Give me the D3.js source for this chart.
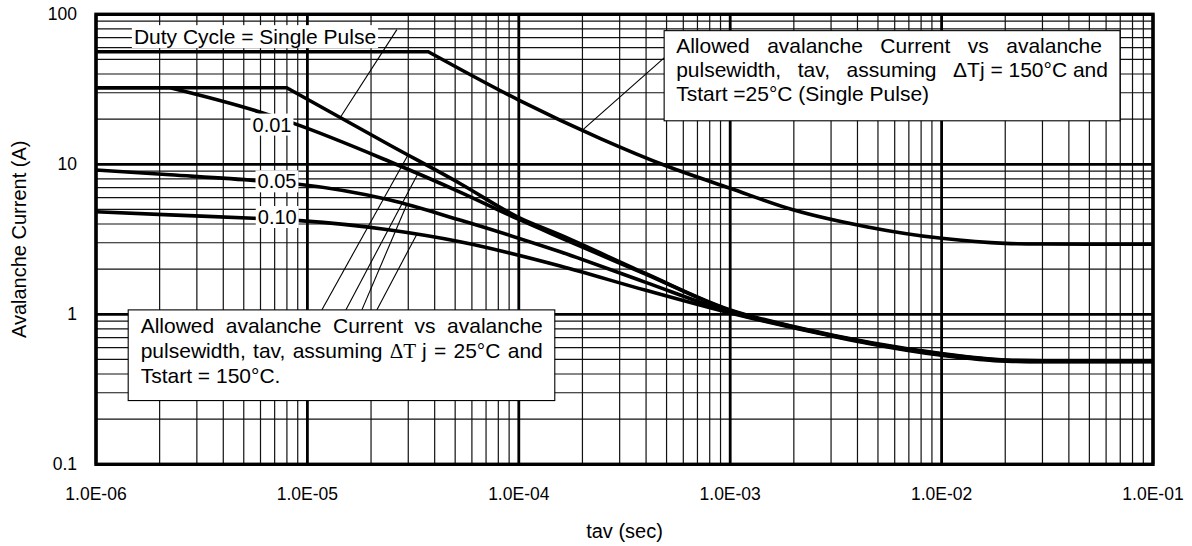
<!DOCTYPE html>
<html><head><meta charset="utf-8">
<script src="https://cdn.jsdelivr.net/npm/d3@7"></script>
<style>
body{margin:0;background:#fff}
svg{display:block}
text{font-family:"Liberation Sans",Arial,Helvetica,sans-serif;fill:#000}
</style>
</head><body>
<svg id="chart" width="1192" height="546"></svg>
<script>
// ---------------- DATA ----------------
const xTicks = [1e-6, 1e-5, 1e-4, 1e-3, 1e-2, 1e-1];
const xTickLabels = ["1.0E-06", "1.0E-05", "1.0E-04", "1.0E-03", "1.0E-02", "1.0E-01"];
const yTicks = [0.1, 1, 10, 100];
const yTickLabels = ["0.1", "1", "10", "100"];

// Single pulse, dTj = 150C, Tstart = 25C
const tSP25 = [1e-6, 3.73e-5, 1e-4, 2.42e-4, 5.0e-4, 1e-3, 2e-3, 4.4e-3, 1e-2, 2e-2, 3e-2, 5e-2, 1e-1];
const iSP25 = [56.3, 56.3, 26.8, 14.9, 9.74, 6.92, 4.96, 3.84, 3.21, 2.97, 2.94, 2.93, 2.93];

// Single pulse, dTj = 25C, Tstart = 150C
const tSP150 = [1e-6, 7.98e-6, 2.46e-5, 5.27e-5, 9.9e-5, 1.57e-4, 3.95e-4, 1e-3, 2.14e-3, 9.8e-3, 2.03e-2, 3e-2, 1e-1];
const iSP150 = [32.4, 32.4, 13.4, 7.45, 4.45, 3.38, 1.88, 1.07, 0.81, 0.55, 0.496, 0.49, 0.49];

// Duty cycle 0.01
const tD01 = [1e-6, 2.24e-6, 5.55e-6, 8.55e-6, 2.46e-5, 5.27e-5, 9.9e-5, 1.57e-4, 3.95e-4, 1e-3, 2.14e-3, 9.8e-3, 2.03e-2, 3e-2, 1e-1];
const iD01 = [32.4, 32.4, 23.0, 18.8, 10.4, 6.53, 4.32, 3.25, 1.86, 1.06, 0.805, 0.545, 0.492, 0.487, 0.487];

// Duty cycle 0.05
const tD05 = [1e-6, 2.24e-6, 5.75e-6, 8.89e-6, 2.46e-5, 5.27e-5, 1.57e-4, 3.95e-4, 1e-3, 2.14e-3, 9.8e-3, 2.03e-2, 3e-2, 1e-1];
const iD05 = [9.16, 8.51, 7.78, 7.39, 5.78, 4.25, 2.61, 1.64, 1.035, 0.80, 0.54, 0.49, 0.485, 0.485];

// Duty cycle 0.10
const tD10 = [1e-6, 2.24e-6, 5.55e-6, 9.2e-6, 2.46e-5, 5.27e-5, 1.57e-4, 3.95e-4, 1e-3, 2.14e-3, 9.8e-3, 2.03e-2, 3e-2, 1e-1];
const iD10 = [4.83, 4.60, 4.37, 4.21, 3.65, 3.05, 2.10, 1.45, 1.02, 0.795, 0.535, 0.487, 0.483, 0.483];

const curveLabels = ["0.01", "0.05", "0.10"];
const dutyTitle = "Duty Cycle = Single Pulse";
const noteTop = ["Allowed avalanche Current vs avalanche",
                 "pulsewidth, tav, assuming ΔTj = 150°C and",
                 "Tstart =25°C (Single Pulse)"];
const noteBottom = ["Allowed avalanche Current vs avalanche",
                    "pulsewidth, tav, assuming ΔT j = 25°C and",
                    "Tstart = 150°C."];
const xTitle = "tav (sec)";
const yTitle = "Avalanche Current (A)";

// ---------------- LAYOUT ----------------
const plot = {left: 96, right: 1153, top: 14.3, bottom: 464.3};
const svg = d3.select("#chart");

const x = d3.scaleLog().domain([1e-6, 1e-1]).range([plot.left, plot.right]);
const y = d3.scaleLog().domain([0.1, 100]).range([plot.bottom, plot.top]);

// grid
const gGrid = svg.append("g");
const minorX = [], minorY = [];
for (let e = -6; e < -1; e++) for (let k = 2; k <= 9; k++) minorX.push(k * Math.pow(10, e));
for (let e = -1; e < 2; e++) for (let k = 2; k <= 9; k++) minorY.push(k * Math.pow(10, e));

gGrid.selectAll("line.mx").data(minorX).enter().append("line")
  .attr("x1", d => x(d)).attr("x2", d => x(d))
  .attr("y1", plot.top).attr("y2", plot.bottom)
  .attr("stroke", "#111").attr("stroke-width", 1.2);
gGrid.selectAll("line.my").data(minorY).enter().append("line")
  .attr("y1", d => y(d)).attr("y2", d => y(d))
  .attr("x1", plot.left).attr("x2", plot.right)
  .attr("stroke", "#111").attr("stroke-width", 1.2);
gGrid.selectAll("line.dx").data(xTicks).enter().append("line")
  .attr("x1", d => x(d)).attr("x2", d => x(d))
  .attr("y1", plot.top).attr("y2", plot.bottom)
  .attr("stroke", "#000").attr("stroke-width", 2.8);
gGrid.selectAll("line.dy").data(yTicks).enter().append("line")
  .attr("y1", d => y(d)).attr("y2", d => y(d))
  .attr("x1", plot.left).attr("x2", plot.right)
  .attr("stroke", "#000").attr("stroke-width", 2.8);

// curves: flat start drawn straight, sharp corner, then smooth decay
const zip = (t, v) => t.map((d, i) => [d, v[i]]);
const series = [
  zip(tSP25, iSP25), zip(tSP150, iSP150), zip(tD01, iD01), zip(tD05, iD05), zip(tD10, iD10)
];
const lineLin = d3.line().x(d => x(d[0])).y(d => y(d[1]));
const lineSmooth = d3.line().x(d => x(d[0])).y(d => y(d[1])).curve(d3.curveMonotoneX);
const gCurves = svg.append("g");
series.forEach(s => {
  let k = 0;
  while (k + 1 < s.length && s[k + 1][1] === s[0][1]) k++;
  const d = (k > 0 ? lineLin(s.slice(0, k + 1)) : "") + lineSmooth(s.slice(k)).replace(/^M/, k > 0 ? "L" : "M");
  gCurves.append("path").attr("d", d).attr("fill", "none").attr("stroke", "#000")
    .attr("stroke-width", 3.6).attr("stroke-linejoin", "miter");
});

// value on a series at time t (log-log interpolation)
function valueAt(s, t) {
  const lt = Math.log10(t);
  for (let i = 0; i < s.length - 1; i++) {
    const a = Math.log10(s[i][0]), b = Math.log10(s[i + 1][0]);
    if (lt >= a && lt <= b) {
      const f = (lt - a) / (b - a);
      return Math.pow(10, Math.log10(s[i][1]) + f * (Math.log10(s[i + 1][1]) - Math.log10(s[i][1])));
    }
  }
  return s[s.length - 1][1];
}

// leader lines
const leaders = [
  {from: [2.65e-5, 79], s: 1, t: 1.43e-5},          // duty cycle label -> SP150
  {from: [4.87e-4, 51.2], s: 0, t: 2.0e-4},         // top note -> SP25
  {from: [1.17e-5, 1.07], s: 1, t: 2.99e-5},        // bottom note -> SP150
  {from: [1.52e-5, 1.07], s: 2, t: 3.33e-5},        // -> 0.01
  {from: [1.81e-5, 1.07], s: 3, t: 2.95e-5},        // -> 0.05
  {from: [2.13e-5, 1.07], s: 4, t: 3.29e-5}         // -> 0.10
];
svg.append("g").selectAll("line").data(leaders).enter().append("line")
  .attr("x1", d => x(d.from[0])).attr("y1", d => y(d.from[1]))
  .attr("x2", d => x(d.t)).attr("y2", d => y(valueAt(series[d.s], d.t)))
  .attr("stroke", "#000").attr("stroke-width", 1.1);

// label with white background
function bgLabel(txt, cx, cy, size, padX, padY) {
  const g = svg.append("g");
  const r = g.append("rect").attr("fill", "#fff");
  const t = g.append("text").attr("x", cx).attr("y", cy).attr("dy", "0.35em")
    .attr("text-anchor", "middle").attr("font-size", size).text(txt);
  const bb = t.node().getBBox();
  r.attr("x", bb.x - padX).attr("y", bb.y - padY)
   .attr("width", bb.width + 2 * padX).attr("height", bb.height + 2 * padY);
}
bgLabel(dutyTitle, x(5.65e-6), y(70.8), 21, 2, 0);
const labelPos = [[6.8e-6, 18.4], [7.18e-6, 7.7], [7.2e-6, 4.45]];
curveLabels.forEach((l, i) => bgLabel(l, x(labelPos[i][0]), y(labelPos[i][1]), 20, 2, 0));

// justified line
function justifyLine(g, words, x0, x1, yb, size) {
  const items = words.map(w => {
    const t = g.append("text").attr("y", yb).attr("font-size", size);
    if (w === "ΔT j") {
      t.append("tspan").attr("font-family", "'Liberation Serif',serif").text("ΔT");
      t.append("tspan").text(" j");
    } else t.text(w);
    return t;
  });
  const widths = items.map(t => t.node().getComputedTextLength());
  const total = d3.sum(widths);
  const gap = (x1 - x0 - total) / (items.length - 1);
  let cx = x0;
  items.forEach((t, i) => { t.attr("x", cx); cx += widths[i] + gap; });
}
function plainLine(g, txt, x0, yb, size) {
  g.append("text").attr("x", x0).attr("y", yb).attr("font-size", size).text(txt);
}

// top-right note
const gTop = svg.append("g");
const topBox = {x0: x(4.87e-4), x1: x(6.98e-2), y0: y(77.8), y1: y(19.5)};
gTop.append("rect").attr("x", topBox.x0).attr("y", topBox.y0)
  .attr("width", topBox.x1 - topBox.x0).attr("height", topBox.y1 - topBox.y0)
  .attr("fill", "#fff").attr("stroke", "#000").attr("stroke-width", 1.1);
justifyLine(gTop, noteTop[0].split(" "), topBox.x0 + 12, topBox.x1 - 18, topBox.y0 + 22.5, 21);
justifyLine(gTop, ["pulsewidth,", "tav,", "assuming", "ΔTj = 150°C and"], topBox.x0 + 12, topBox.x1 - 12, topBox.y0 + 46.5, 21);
plainLine(gTop, noteTop[2], topBox.x0 + 12, topBox.y0 + 70.8, 21);

// bottom-left note
const gBot = svg.append("g");
const botBox = {x0: x(1.42e-6), x1: x(1.48e-4), y0: y(1.07), y1: y(0.266)};
gBot.append("rect").attr("x", botBox.x0).attr("y", botBox.y0)
  .attr("width", botBox.x1 - botBox.x0).attr("height", botBox.y1 - botBox.y0)
  .attr("fill", "#fff").attr("stroke", "#000").attr("stroke-width", 1.1);
justifyLine(gBot, noteBottom[0].split(" "), botBox.x0 + 12.5, botBox.x1 - 12, botBox.y0 + 23.3, 21);
justifyLine(gBot, ["pulsewidth,", "tav,", "assuming", "ΔT j", "=", "25°C", "and"], botBox.x0 + 12.5, botBox.x1 - 12, botBox.y0 + 48.5, 21);
plainLine(gBot, noteBottom[2], botBox.x0 + 12.5, botBox.y0 + 73.3, 21);

// border
svg.append("rect").attr("x", plot.left).attr("y", plot.top)
  .attr("width", plot.right - plot.left).attr("height", plot.bottom - plot.top)
  .attr("fill", "none").attr("stroke", "#000").attr("stroke-width", 3.4);

// axes tick labels
svg.append("g").selectAll("text").data(xTicks).enter().append("text")
  .attr("x", d => x(d)).attr("y", plot.bottom + 35.7)
  .attr("text-anchor", "middle").attr("font-size", 17.5)
  .text((d, i) => xTickLabels[i]);
svg.append("g").selectAll("text").data(yTicks).enter().append("text")
  .attr("x", plot.left - 19).attr("y", d => y(d)).attr("dy", "0.35em")
  .attr("text-anchor", "end").attr("font-size", 17.5)
  .text((d, i) => yTickLabels[i]);

// titles
svg.append("text").attr("x", (plot.left + plot.right) / 2).attr("y", 538)
  .attr("text-anchor", "middle").attr("font-size", 20).text(xTitle);
svg.append("text").attr("transform", `translate(26,${(plot.top + plot.bottom) / 2}) rotate(-90)`)
  .attr("text-anchor", "middle").attr("font-size", 20).text(yTitle);
</script>
</body></html>
